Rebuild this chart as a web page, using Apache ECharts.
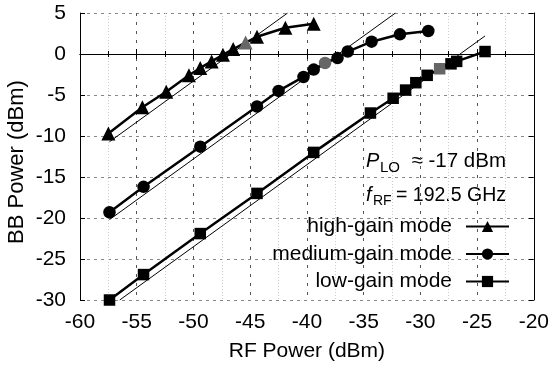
<!DOCTYPE html>
<html>
<head>
<meta charset="utf-8">
<script src="https://cdn.jsdelivr.net/npm/echarts@6/dist/echarts.min.js"></script>
<style>
  html, body { margin: 0; padding: 0; background: #fff; }
  #mychart { width: 552px; height: 367px; }
</style>
</head>
<body>
<div id="mychart"></div>
<script>
// 数据
var highX = [-57.5, -54.5, -52.4, -50.4, -49.4, -48.4, -47.4, -46.5, -45.4, -44.4, -41.9, -39.4]
var highY = [-9.7, -6.5, -4.6, -2.6, -1.7, -0.9, -0.1, 0.6, 1.4, 2.1, 3.2, 3.7]
var highGray = 8

var medX = [-57.4, -54.4, -49.4, -44.4, -42.5, -40.3, -39.4, -38.4, -37.3, -36.4, -34.3, -31.8, -29.3]
var medY = [-19.3, -16.2, -11.3, -6.4, -4.5, -2.8, -1.9, -1.1, -0.5, 0.3, 1.5, 2.4, 2.8]
var medGray = 7

var lowX = [-57.4, -54.4, -49.4, -44.4, -39.4, -34.4, -32.4, -31.3, -30.4, -29.4, -28.3, -27.3, -26.8, -24.3]
var lowY = [-30, -26.9, -21.9, -17.0, -12.0, -7.2, -5.4, -4.4, -3.5, -2.6, -1.8, -1.2, -0.9, 0.3]
var lowGray = 10

// 细线 (理想线性) 端点
var highRefX = [-57.4, -41.7]
var highRefY = [-10.7, 5]
var medRefX = [-57.4, -32.2]
var medRefY = [-20.2, 5]
var lowRefX = [-56.5, -24.3]
var lowRefY = [-30, 2.2]

var seriesNames = ['high-gain mode', 'medium-gain mode', 'low-gain mode']

function pairs(xs, ys, grayIdx) {
    var out = []
    for (var i = 0; i < xs.length; i++) {
        var p = { value: [xs[i], ys[i]] }
        if (i === grayIdx) {
            p.itemStyle = { color: '#666' }
        }
        out.push(p)
    }
    return out
}

function refLine(xs, ys) {
    return {
        type: 'line',
        data: pairs(xs, ys, -1),
        showSymbol: false,
        silent: true,
        lineStyle: { color: '#000', width: 1 },
        z: 1
    }
}

function mainLine(name, xs, ys, grayIdx, symbol, size) {
    return {
        name: name,
        type: 'line',
        data: pairs(xs, ys, grayIdx),
        symbol: symbol,
        symbolSize: size,
        itemStyle: { color: '#000' },
        lineStyle: { color: '#000', width: 2.5 },
        z: 3
    }
}

var font = 'Liberation Sans, Arial, sans-serif'
var fs = 21

var myChart = echarts.init(document.getElementById('mychart'), null, { renderer: 'canvas' })

var option = {
    animation: false,
    textStyle: { fontFamily: font },
    grid: { left: 80, right: 16, top: 13, bottom: 67, containLabel: false },
    xAxis: [{
        type: 'value',
        min: -60,
        max: -20,
        interval: 5,
        name: 'RF Power (dBm)',
        nameLocation: 'middle',
        nameGap: 41,
        nameTextStyle: { fontSize: fs, color: '#000', fontFamily: font },
        axisLine: { show: true, lineStyle: { color: '#000', width: 1 } },
        axisTick: { show: true, inside: true, length: 5, lineStyle: { color: '#000' } },
        minorTick: { show: true, splitNumber: 2, length: 3, lineStyle: { color: '#000' } },
        axisLabel: { fontSize: fs, color: '#000', margin: 12, fontFamily: font },
        splitLine: { show: true, lineStyle: { color: '#555', type: [3, 6], width: 1 } },
        minorSplitLine: { show: true, lineStyle: { color: '#ccc', type: [1, 2], width: 1 } }
    }, {
        type: 'value',
        position: 'top',
        min: -60,
        max: -20,
        interval: 5,
        axisLine: { show: true, lineStyle: { color: '#000', width: 1 } },
        axisTick: { show: true, inside: true, length: 5, lineStyle: { color: '#000' } },
        minorTick: { show: true, splitNumber: 2, length: 3, lineStyle: { color: '#000' } },
        axisLabel: { show: false },
        splitLine: { show: false }
    }],
    yAxis: [{
        type: 'value',
        min: -30,
        max: 5,
        interval: 5,
        axisLine: { show: true, lineStyle: { color: '#000', width: 1 } },
        axisTick: { show: true, inside: true, length: 5, lineStyle: { color: '#000' } },
        axisLabel: { fontSize: fs, color: '#000', margin: 14, fontFamily: font },
        splitLine: { show: true, lineStyle: { color: '#888', type: [3, 4], width: 1 } }
    }, {
        type: 'value',
        position: 'right',
        min: -30,
        max: 5,
        interval: 5,
        axisLine: { show: true, lineStyle: { color: '#000', width: 1 } },
        axisTick: { show: true, inside: true, length: 5, lineStyle: { color: '#000' } },
        axisLabel: { show: false },
        splitLine: { show: false }
    }],
    legend: {
        data: seriesNames,
        orient: 'vertical',
        align: 'right',
        right: 42,
        top: 216,
        padding: 0,
        itemWidth: 43,
        itemHeight: 14,
        itemGap: 6.5,
        selectedMode: false,
        textStyle: { fontSize: fs, color: '#000', fontFamily: font, lineHeight: 21, padding: [0, 9, 0, 0] }
    },
    graphic: [
        // y 轴标题
        {
            type: 'text', x: 17, y: 162, rotation: Math.PI / 2,
            style: { text: 'BB Power (dBm)', font: '22px ' + font, fill: '#000', align: 'center', verticalAlign: 'middle' }
        },
        { type: 'text', left: 366, top: 151, style: { text: 'P', font: 'italic 20px ' + font, fill: '#000' } },
        { type: 'text', left: 380, top: 160, style: { text: 'LO', font: '15px ' + font, fill: '#000' } },
        { type: 'text', right: 46, top: 151, style: { text: '≈ -17 dBm', font: '20.5px ' + font, fill: '#000' } },
        { type: 'text', left: 366, top: 185, style: { text: 'f', font: 'italic 20px ' + font, fill: '#000' } },
        { type: 'text', left: 373, top: 194, style: { text: 'RF', font: '14px ' + font, fill: '#000' } },
        { type: 'text', right: 46, top: 185.5, style: { text: '= 192.5 GHz', font: '19.5px ' + font, fill: '#000' } }
    ],
    series: [
        refLine(highRefX, highRefY),
        refLine(medRefX, medRefY),
        refLine(lowRefX, lowRefY),
        mainLine(seriesNames[0], highX, highY, highGray, 'triangle', 14),
        mainLine(seriesNames[1], medX, medY, medGray, 'circle', 12.5),
        mainLine(seriesNames[2], lowX, lowY, lowGray, 'rect', 11.5)
    ]
}

myChart.setOption(option)
</script>
</body>
</html>
